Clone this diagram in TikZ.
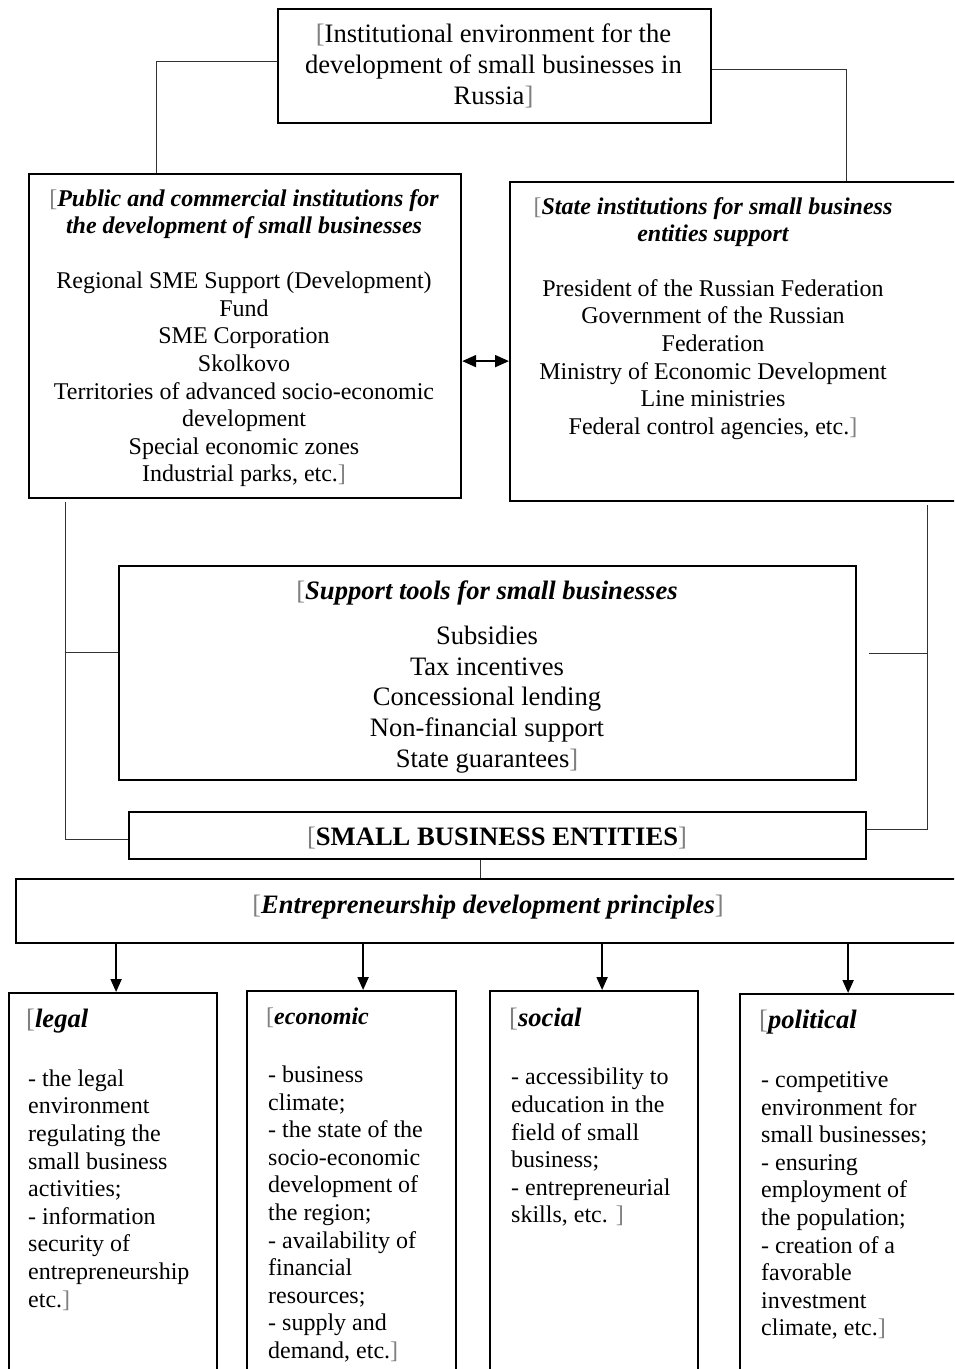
\documentclass[tikz,border=0pt]{standalone}
\usepackage{fontspec}
\setmainfont{Liberation Serif}
\usetikzlibrary{arrows.meta}
\newcommand{\lmk}{\textcolor{black!50}{\normalfont[}}
\newcommand{\rmk}{\textcolor{black!50}{\normalfont]}}

\begin{document}
\begin{tikzpicture}[x=1pt, y=-1pt,
	box/.style={draw, line width=2.2pt, inner sep=0pt, anchor=north west},
	conn/.style={draw=black!80, line width=1pt},
	arr/.style={line width=2pt, -{Triangle[length=13pt,width=11pt]}},
	big/.style={inner sep=0pt, align=center, font=\fontsize{26.6}{30.6}\selectfont},
	mid/.style={inner sep=0pt, align=center, font=\fontsize{24}{27.6}\selectfont},
	midhead/.style={inner sep=0pt, align=center, font=\fontsize{24}{27.6}\selectfont\bfseries\itshape},
	head/.style={inner sep=0pt, font=\fontsize{26.6}{30.6}\selectfont\bfseries\itshape},
	list/.style={inner sep=0pt, align=left, anchor=west, font=\fontsize{24}{27.6}\selectfont}]
		\useasboundingbox (0,0) rectangle (954,1369);
		\clip (0,0) rectangle (954,1369);

		% boxes
		\node[box, minimum width=433pt, minimum height=114pt] (inst) at (277,8) {};
		\node[box, minimum width=432pt, minimum height=324pt] (pub) at (28,173) {};
		\node[box, minimum width=453pt, minimum height=319pt] (state) at (509,181) {};
		\node[box, minimum width=737pt, minimum height=214pt] (tools) at (118,565) {};
		\node[box, minimum width=737pt, minimum height=47pt] (sbe) at (128,811) {};
		\node[box, minimum width=947pt, minimum height=64pt] (princ) at (15,878) {};
		\node[box, minimum width=208pt, minimum height=400pt] (legal) at (8,992) {};
		\node[box, minimum width=209pt, minimum height=400pt] (econ) at (246,990) {};
		\node[box, minimum width=208pt, minimum height=400pt] (social) at (489,990) {};
		\node[box, minimum width=223pt, minimum height=400pt] (polit) at (739,993) {};

		% upper texts
		\node[big] (instT) at (493.5,66) {\lmk Institutional environment for the\\development of small businesses in\\Russia\rmk};
		\node[midhead] (pubH) at (244,214) {\lmk Public and commercial institutions for\\the development of small businesses};
		\node[mid] (pubB) at (244,379.5) {Regional SME Support (Development)\\Fund\\SME Corporation\\Skolkovo\\Territories of advanced socio-economic\\development\\Special economic zones\\Industrial parks, etc.\rmk};
		\node[midhead] (stateH) at (713,222) {\lmk State institutions for small business\\entities support};
		\node[mid] (stateB) at (713,359.5) {President of the Russian Federation\\Government of the Russian\\Federation\\Ministry of Economic Development\\Line ministries\\Federal control agencies, etc.\rmk};

		% support tools
		\node[head] (toolsH) at (487,593) {\lmk Support tools for small businesses};
		\node[big] (toolsB) at (487,699.5) {Subsidies\\Tax incentives\\Concessional lending\\Non-financial support\\State guarantees\rmk};
		\node[inner sep=0pt, font=\fontsize{26.6}{30.6}\selectfont\bfseries] (sbeT) at (497,838) {\lmk SMALL BUSINESS ENTITIES\rmk};
		\node[head] (princT) at (488,907) {\lmk Entrepreneurship development principles\rmk};

		% principles
		\node[head, anchor=west] (legalH) at (26,1021) {\lmk legal};
		\node[head, anchor=west, font=\fontsize{24}{27.6}\selectfont\bfseries\itshape] (econH) at (266,1018) {\lmk economic};
		\node[head, anchor=west] (socialH) at (509,1019) {\lmk social};
		\node[head, anchor=west] (politH) at (759,1022) {\lmk political};
		\node[list] (legalB) at (28,1190) {- the legal\\environment\\regulating the\\small business\\activities;\\- information\\security of\\entrepreneurship\\etc.\rmk};
		\node[list] (econB) at (268,1214) {- business\\climate;\\- the state of the\\socio-economic\\development of\\the region;\\- availability of\\financial\\resources;\\- supply and\\demand, etc.\rmk};
		\node[list] (socialB) at (511,1147.5) {- accessibility to\\education in the\\field of small\\business;\\- entrepreneurial\\skills, etc. \rmk};
		\node[list] (politB) at (761,1205.5) {- competitive\\environment for\\small businesses;\\- ensuring\\employment of\\the population;\\- creation of a\\favorable\\investment\\climate, etc.\rmk};

		% connectors
		\draw[conn] ([yshift=5pt]inst.west) -| ([xshift=-89pt]pub.north);
		\draw[conn] ([yshift=-3pt]inst.east) -| ([xshift=109.5pt]state.north);
		\draw[line width=2pt, {Triangle[length=14pt,width=12pt]}-{Triangle[length=14pt,width=12pt]}] ([yshift=-25pt]pub.east) -- ([yshift=-25pt]pub.east -| state.west);
		\coordinate (lbus) at ([xshift=37pt,yshift=-3pt]pub.south west);
		\coordinate (rbus) at ([xshift=418pt,yshift=-3pt]state.south west);
		\draw[conn] (lbus) |- ([yshift=-3.5pt]sbe.west);
		\draw[conn] ([yshift=21pt]tools.west) -- ([yshift=21pt]tools.west -| lbus);
		\draw[conn] (rbus) |- ([yshift=6.5pt]sbe.east);
		\draw[conn] ([xshift=12pt,yshift=20pt]tools.east) -- ([yshift=20pt]tools.east -| rbus);
		\draw[conn] ([xshift=-17pt]sbe.south) -- ([xshift=-17pt]sbe.south |- princ.north);
		\foreach \b/\dx in {legal/3, econ/11.5, social/8, polit/-3.5}
			\draw[arr] ([xshift=\dx pt]princ.south -| \b.north) -- ([xshift=\dx pt]\b.north);
	\end{tikzpicture}
\end{document}
